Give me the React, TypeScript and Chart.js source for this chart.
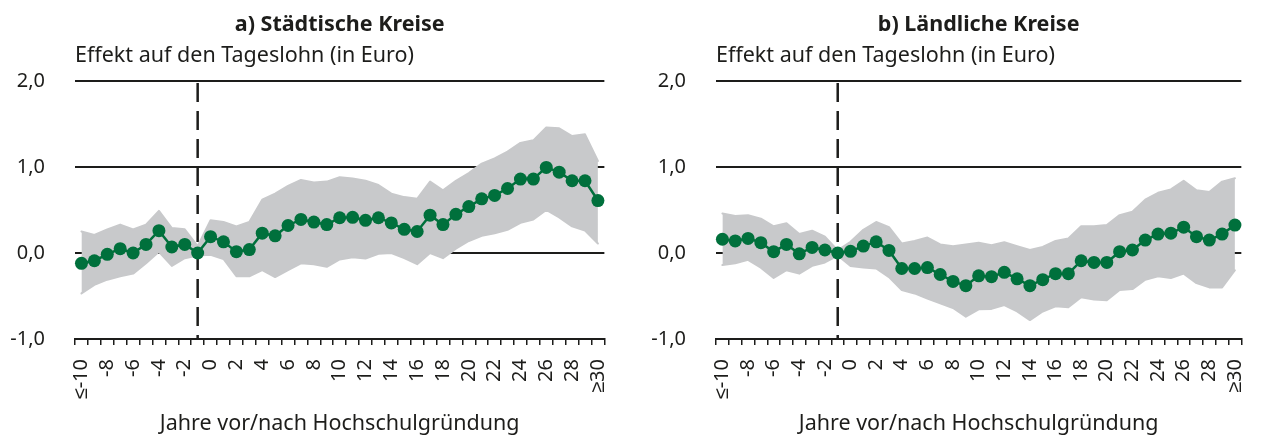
import React, { useEffect, useRef } from "react";
import { Chart, registerables } from "chart.js";

Chart.register(...registerables);

const categories = [
  "≤-10", "-9", "-8", "-7", "-6", "-5", "-4", "-3", "-2", "-1",
  "0", "1", "2", "3", "4", "5", "6", "7", "8", "9",
  "10", "11", "12", "13", "14", "15", "16", "17", "18", "19",
  "20", "21", "22", "23", "24", "25", "26", "27", "28", "29", "≥30",
];

const referenceYearIndex = 9;

const urbanEffect = [
  -0.12, -0.09, -0.015, 0.05, 0.0, 0.1, 0.26, 0.07, 0.1, 0.0,
  0.19, 0.13, 0.015, 0.04, 0.23, 0.2, 0.32, 0.39, 0.36, 0.33,
  0.41, 0.415, 0.38, 0.41, 0.35, 0.275, 0.25, 0.44, 0.33, 0.45,
  0.54, 0.63, 0.67, 0.75, 0.86, 0.86, 0.995, 0.94, 0.84, 0.84, 0.61,
];
const urbanUpper = [
  0.25, 0.21, 0.275, 0.33, 0.275, 0.33, 0.49, 0.29, 0.275, 0.08,
  0.38, 0.36, 0.31, 0.36, 0.62, 0.69, 0.78, 0.85, 0.82, 0.83,
  0.88, 0.865, 0.84, 0.79, 0.69, 0.65, 0.63, 0.83, 0.73, 0.84,
  0.93, 1.04, 1.1, 1.18, 1.28, 1.31, 1.46, 1.45, 1.36, 1.38, 1.07,
];
const urbanLower = [
  -0.47, -0.37, -0.31, -0.27, -0.24, -0.12, 0.015, -0.15, -0.06, -0.03,
  -0.02, -0.07, -0.27, -0.27, -0.2, -0.28, -0.2, -0.12, -0.13, -0.16,
  -0.075, -0.05, -0.065, -0.01, 0.0, -0.06, -0.13, 0.0, -0.06, 0.05,
  0.14, 0.2, 0.23, 0.27, 0.35, 0.39, 0.5, 0.415, 0.31, 0.26, 0.11,
];

const ruralEffect = [
  0.16, 0.14, 0.17, 0.12, 0.015, 0.1, -0.01, 0.065, 0.035, 0.0,
  0.02, 0.08, 0.13, 0.03, -0.18, -0.18, -0.17, -0.25, -0.33, -0.38,
  -0.265, -0.275, -0.225, -0.3, -0.38, -0.31, -0.24, -0.24, -0.09, -0.11,
  -0.11, 0.015, 0.035, 0.15, 0.22, 0.23, 0.3, 0.19, 0.15, 0.22, 0.325,
];
const ruralUpper = [
  0.46, 0.43, 0.44, 0.4, 0.31, 0.345, 0.22, 0.26, 0.19, 0.03,
  0.13, 0.27, 0.36, 0.3, 0.11, 0.14, 0.18, 0.1, 0.08, 0.1,
  0.12, 0.09, 0.125, 0.08, 0.035, 0.07, 0.14, 0.17, 0.31, 0.31,
  0.325, 0.44, 0.48, 0.62, 0.7, 0.74, 0.84, 0.73, 0.71, 0.83, 0.87,
];
const ruralLower = [
  -0.14, -0.12, -0.08, -0.17, -0.29, -0.2, -0.24, -0.15, -0.11, -0.03,
  -0.15, -0.17, -0.18, -0.28, -0.43, -0.47, -0.53, -0.585, -0.64, -0.74,
  -0.655, -0.65, -0.605, -0.68, -0.78, -0.68, -0.62, -0.63, -0.515, -0.54,
  -0.55, -0.43, -0.42, -0.31, -0.27, -0.29, -0.24, -0.35, -0.4, -0.4, -0.2,
];

const yTicks = [-1, 0, 1, 2];

const panelTitles = ["a) Städtische Kreise", "b) Ländliche Kreise"];
const yAxisTitle = "Effekt auf den Tageslohn (in Euro)";
const xAxisTitle = "Jahre vor/nach Hochschulgründung";

const FONT = "'Noto Sans', sans-serif";
const GREEN = "#00703c";
const BAND = "#c8c9cb";
const INK = "#1d1d1b";

type PanelProps = {
  title: string;
  effect: number[];
  upper: number[];
  lower: number[];
  width: number;
  left: number;
  yAxisWidth: number;
  padRight: number;
};

function Panel({ title, effect, upper, lower, width, left, yAxisWidth, padRight }: PanelProps) {
  const ref = useRef<HTMLCanvasElement | null>(null);

  useEffect(() => {
    if (!ref.current) return;
    const textPlugin = {
      id: "panelText",
      afterDraw(chart: any) {
        const { ctx, chartArea } = chart;
        ctx.save();
        ctx.fillStyle = INK;
        ctx.textBaseline = "middle";
        ctx.font = `bold 21.5px ${FONT}`;
        ctx.textAlign = "center";
        ctx.fillText(title, (chartArea.left + chartArea.right) / 2, 25);
        ctx.font = `21.5px ${FONT}`;
        ctx.textAlign = "left";
        ctx.fillText(yAxisTitle, chartArea.left, 56);
        ctx.restore();
      },
    };
    const refLinePlugin = {
      id: "refLine",
      beforeDatasetsDraw(chart: any) {
        const { ctx, chartArea, scales } = chart;
        const x = scales.x.getPixelForValue(referenceYearIndex);
        ctx.save();
        ctx.strokeStyle = INK;
        ctx.lineWidth = 2.5;
        ctx.setLineDash([19, 9]);
        ctx.beginPath();
        ctx.moveTo(x, chartArea.top + 2);
        ctx.lineTo(x, chartArea.bottom);
        ctx.stroke();
        ctx.restore();
      },
    };
    const chart = new Chart(ref.current, {
      type: "line",
      data: {
        labels: categories,
        datasets: [
          {
            label: "Effekt",
            data: effect,
            borderColor: GREEN,
            backgroundColor: GREEN,
            borderWidth: 2.5,
            pointRadius: 6.5,
            pointBorderWidth: 0,
            pointBackgroundColor: GREEN,
            tension: 0,
            fill: false,
          },
          {
            label: "Obere Grenze",
            data: upper,
            borderColor: BAND,
            backgroundColor: BAND,
            borderWidth: 2,
            borderJoinStyle: "round",
            borderCapStyle: "round",
            pointRadius: 0,
            tension: 0,
            fill: "+1",
          },
          {
            label: "Untere Grenze",
            data: lower,
            borderColor: BAND,
            backgroundColor: BAND,
            borderWidth: 2,
            borderJoinStyle: "round",
            borderCapStyle: "round",
            pointRadius: 0,
            tension: 0,
            fill: false,
          },
        ],
      },
      options: {
        animation: false,
        responsive: false,
        layout: { padding: { top: 81, right: padRight, left: 0, bottom: 0 } },
        plugins: {
          legend: { display: false },
          tooltip: { enabled: false },
          title: { display: false },
        },
        scales: {
          x: {
            type: "category",
            offset: true,
            afterFit: (scale: any) => {
              scale.height = 100;
            },
            border: { display: true, color: INK, width: 2 },
            grid: {
              display: true,
              drawOnChartArea: false,
              drawTicks: true,
              tickLength: 6,
              offset: true,
              color: INK,
              lineWidth: 1.5,
              tickWidth: 1.5,
              tickColor: INK,
            },
            ticks: {
              autoSkip: false,
              maxRotation: 90,
              minRotation: 90,
              padding: 14,
              color: INK,
              font: { family: FONT, size: 20 },
              callback: (_v: any, i: number) => (i % 2 === 0 ? categories[i] : ""),
            },
            title: {
              display: true,
              text: xAxisTitle,
              color: INK,
              font: { family: FONT, size: 21.5 },
              padding: { top: 0, bottom: 2 },
            },
          },
          y: {
            min: yTicks[0],
            max: yTicks[yTicks.length - 1],
            afterFit: (scale: any) => {
              scale.width = yAxisWidth;
            },
            afterBuildTicks: (scale: any) => {
              scale.ticks = yTicks.map((v) => ({ value: v }));
            },
            border: { display: false },
            grid: {
              color: INK,
              lineWidth: 2,
              drawTicks: false,
            },
            ticks: {
              padding: 30,
              color: INK,
              font: { family: FONT, size: 20 },
              callback: (v: any) => Number(v).toFixed(1).replace(".", ","),
            },
          },
        },
      },
      plugins: [textPlugin, refLinePlugin],
    });
    return () => chart.destroy();
  }, [title, effect, upper, lower, width, yAxisWidth, padRight]);

  return (
    <canvas
      ref={ref}
      width={width}
      height={439}
      style={{ position: "absolute", left, top: 0, width, height: 439 }}
    />
  );
}

export default function App() {
  return (
    <div style={{ position: "absolute", left: 0, top: 0, width: 1273, height: 439, background: "#fff" }}>
      <Panel
        title={panelTitles[0]}
        effect={urbanEffect}
        upper={urbanUpper}
        lower={urbanLower}
        width={636}
        left={0}
        yAxisWidth={75}
        padRight={7}
      />
      <Panel
        title={panelTitles[1]}
        effect={ruralEffect}
        upper={ruralUpper}
        lower={ruralLower}
        width={633}
        left={640}
        yAxisWidth={76}
        padRight={4}
      />
    </div>
  );
}
